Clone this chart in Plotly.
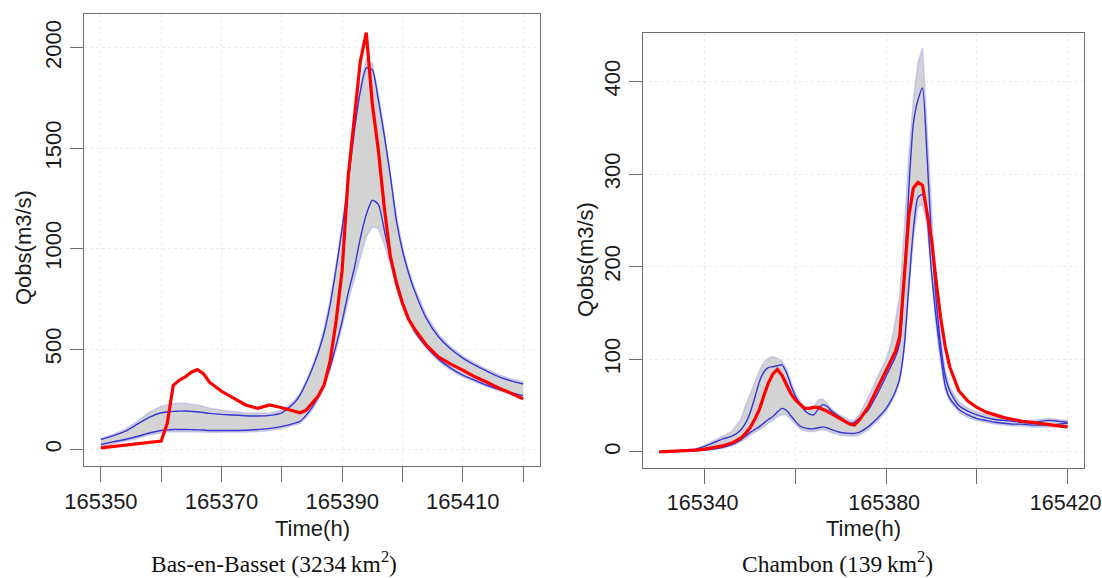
import plotly.graph_objects as go

W, H = 1102, 578

# ---------------- Left panel: Bas-en-Basset ----------------
t_left = [165350, 165352, 165354, 165356, 165358, 165360, 165361, 165362, 165363, 165364,
          165365, 165366, 165367, 165368, 165370, 165372, 165374, 165376, 165378, 165380,
          165382, 165383, 165384, 165385, 165386, 165387, 165388, 165389, 165390, 165391,
          165392, 165393, 165394, 165395, 165396, 165397, 165398, 165399, 165400, 165401,
          165402, 165404, 165406, 165408, 165410, 165412, 165414, 165416, 165418, 165420]

obs_left = [8, 15, 22, 28, 34, 42, 130, 320, 345, 362,
            385, 398, 378, 335, 290, 255, 222, 205, 222, 208,
            190, 183, 195, 230, 265, 320, 440, 640, 893, 1360,
            1650, 1930, 2075, 1720, 1490, 1200, 960, 830, 727, 650,
            600, 518, 460, 425, 395, 362, 335, 305, 280, 252]

blue_up_left = [50, 68, 90, 125, 160, 183, 187, 190, 191, 192,
                190, 188, 184, 180, 175, 172, 168, 167, 170, 183,
                230, 270, 330, 400, 480, 580, 720, 900, 1100, 1330,
                1580, 1780, 1900, 1890, 1740, 1560, 1360, 1140, 990, 880,
                790, 650, 560, 500, 455, 420, 390, 362, 342, 326]

blue_lo_left = [25, 38, 50, 65, 82, 95, 98, 100, 100, 100,
                99, 98, 97, 95, 95, 95, 96, 100, 105, 115,
                130, 140, 170, 210, 260, 330, 410, 520, 640, 780,
                900, 1050, 1170, 1241, 1220, 1090, 950, 820, 740, 660,
                590, 510, 450, 405, 370, 345, 320, 300, 283, 268]

band_up_left = [55, 75, 100, 140, 185, 215, 222, 228, 230, 230,
                226, 222, 214, 205, 195, 188, 182, 180, 182, 195,
                240, 280, 340, 410, 495, 600, 740, 920, 1120, 1350,
                1600, 1810, 1945, 1920, 1770, 1580, 1380, 1160, 1005, 895,
                805, 665, 572, 510, 465, 430, 400, 372, 352, 336]

band_lo_left = [15, 28, 40, 55, 72, 85, 88, 90, 90, 90,
                89, 88, 87, 86, 86, 86, 87, 90, 95, 105,
                120, 130, 158, 196, 245, 310, 390, 495, 610, 740,
                850, 960, 1060, 1110, 1100, 1020, 920, 800, 720, 645,
                580, 500, 440, 395, 362, 338, 312, 293, 277, 258]

# ---------------- Right panel: Chambon ----------------
t_right = [165330, 165332, 165334, 165336, 165338, 165340, 165342, 165344, 165346, 165348,
           165349, 165350, 165351, 165352, 165353, 165354, 165355, 165356, 165357, 165358,
           165359, 165360, 165361, 165362, 165363, 165364, 165365, 165366, 165367, 165368,
           165370, 165372, 165373, 165374, 165376, 165378, 165380, 165381, 165382, 165383,
           165384, 165385, 165386, 165387, 165388, 165389, 165390, 165391, 165392, 165393,
           165394, 165396, 165398, 165400, 165402, 165404, 165406, 165408, 165410, 165412,
           165414, 165416, 165418, 165420]

obs_right = [0, 0.3, 0.7, 1.2, 2, 3, 4.5, 6.5, 9.5, 15,
             20, 26, 35, 45, 60, 74, 84, 89, 83, 72,
             63, 56, 51, 47, 47, 48, 48, 46, 44, 41,
             35, 30, 29, 34, 48, 68, 87, 98, 108, 125,
             185, 255, 285, 291, 288, 258, 229, 185, 145, 114,
             92, 66, 55, 48, 43, 40, 37, 35, 33, 32,
             31, 29.5, 28, 27]

blue_up_right = [0, 0.5, 1, 2, 3, 6, 10, 14, 17, 24,
                 31, 42, 58, 75, 86, 91, 92, 93, 94, 86,
                 72, 60, 52, 45, 41, 40, 46, 51, 49, 44,
                 37, 31, 32, 36, 45, 62, 82, 92, 102, 118,
                 190, 285, 355, 380, 393, 320, 229, 165, 115, 82,
                 66, 50, 44, 40, 37, 35, 34, 33, 32, 31,
                 33, 34, 33, 32]

blue_lo_right = [0, 0.3, 0.6, 1, 1.5, 2, 3, 5, 8, 13,
                 17, 21, 24, 27, 31, 35, 38, 43, 47, 45,
                 39, 33, 28, 26, 25, 25, 26, 27, 26, 24,
                 21, 20, 20, 21, 27, 36, 47, 55, 65, 80,
                 115, 180, 240, 275, 278, 255, 193, 145, 105, 72,
                 58, 46, 40, 36, 34, 32, 31, 30, 30, 29,
                 29, 29, 30, 31]

band_up_right = [0, 0.6, 1.2, 2.2, 3.5, 7, 12, 17, 22, 35,
                 50, 62, 75, 87, 96, 101, 103, 101, 98, 90,
                 76, 63, 55, 48, 45, 48, 56, 57, 52, 46,
                 39, 34, 34, 40, 58, 80, 100, 115, 140, 170,
                 240, 320, 380, 420, 436, 350, 250, 175, 125, 88,
                 70, 54, 47, 43, 40, 38, 36, 35, 34, 34,
                 35, 36, 35, 34]

band_lo_right = [0, 0.2, 0.4, 0.8, 1.2, 1.6, 2.5, 4, 6.5, 11,
                 14, 18, 21, 24, 27, 31, 34, 38, 40, 40,
                 35, 30, 25, 23, 22, 22, 23, 24, 23, 21,
                 18, 17, 17, 18, 24, 33, 44, 52, 62, 76,
                 110, 172, 232, 265, 268, 245, 186, 136, 97, 67,
                 55, 43, 37, 34, 32, 30, 29, 28, 28, 27,
                 27, 27, 27, 26]

# tick definitions
xticks_left = [165350, 165360, 165370, 165380, 165390, 165400, 165410, 165420]
xlabels_left = ["165350", "", "165370", "", "165390", "", "165410", ""]
yticks_left = [0, 500, 1000, 1500, 2000]
xticks_right = [165340, 165360, 165380, 165400, 165420]
xlabels_right = ["165340", "", "165380", "", "165420"]
yticks_right = [0, 100, 200, 300, 400]

captions = ["Bas-en-Basset (3234\u2009km<sup>2</sup>)", "Chambon (139\u2009km<sup>2</sup>)"]

RED = "#ff0000"
BLUE = "#3434d8"
GRAY = "#d3d3d3"
EDGE = "rgba(170,170,235,0.55)"

fig = go.Figure()


def add_panel(t, obs, bu, bl, gu, gl, xa, ya):
    fig.add_trace(go.Scatter(x=t, y=gu, mode="lines", line=dict(color=EDGE, width=1.5),
                             xaxis=xa, yaxis=ya, showlegend=False, hoverinfo="skip"))
    fig.add_trace(go.Scatter(x=t, y=gl, mode="lines", line=dict(color=EDGE, width=1.5),
                             fill="tonexty", fillcolor=GRAY,
                             xaxis=xa, yaxis=ya, showlegend=False, hoverinfo="skip"))
    fig.add_trace(go.Scatter(x=t, y=bu, mode="lines", line=dict(color=BLUE, width=1.4, shape="spline", smoothing=0.6),
                             xaxis=xa, yaxis=ya, showlegend=False))
    fig.add_trace(go.Scatter(x=t, y=bl, mode="lines", line=dict(color=BLUE, width=1.4, shape="spline", smoothing=0.6),
                             xaxis=xa, yaxis=ya, showlegend=False))
    fig.add_trace(go.Scatter(x=t, y=obs, mode="lines", line=dict(color=RED, width=3.2),
                             xaxis=xa, yaxis=ya, showlegend=False))


add_panel(t_left, obs_left, blue_up_left, blue_lo_left, band_up_left, band_lo_left, "x", "y")
add_panel(t_right, obs_right, blue_up_right, blue_lo_right, band_up_right, band_lo_right, "x2", "y2")

# pixel boxes of the two plots
L = dict(x0=84, x1=540, y0=14, y1=466)
R = dict(x0=643, x1=1084, y0=33, y1=468)


def dom_x(b):
    return [b["x0"] / W, b["x1"] / W]


def dom_y(b):
    return [1 - b["y1"] / H, 1 - b["y0"] / H]


tickfont = dict(family="Liberation Sans, Arial, sans-serif", size=22, color="#1a1a1a")
tickfont_r = dict(family="Liberation Sans, Arial, sans-serif", size=21.5, color="#1a1a1a")
common_x = dict(showline=True, linecolor="#6e6e6e", linewidth=1.3, mirror=True,
                ticks="outside", ticklen=15, tickcolor="#6e6e6e", tickwidth=1.3,
                showgrid=True, gridcolor="#ececec", griddash="dot", gridwidth=1,
                zeroline=False, tickmode="array", automargin=False,
                ticklabeloverflow="allow")
common_y = dict(showline=True, linecolor="#6e6e6e", linewidth=1.3, mirror=True,
                ticks="outside", ticklen=13, tickcolor="#6e6e6e", tickwidth=1.3,
                showgrid=True, gridcolor="#ececec", griddash="dot", gridwidth=1,
                zeroline=False, tickfont=tickfont, tickmode="array", tickangle=-90,
                automargin=False, ticklabeloverflow="allow")

fig.update_layout(
    width=W, height=H,
    margin=dict(l=0, r=0, t=0, b=0, autoexpand=False),
    paper_bgcolor="white", plot_bgcolor="white",
    xaxis=dict(domain=dom_x(L), range=[165347.2, 165422.8], anchor="y",
               tickvals=xticks_left, ticktext=xlabels_left, tickfont=tickfont, **common_x),
    yaxis=dict(domain=dom_y(L), range=[-82, 2168], anchor="x",
               tickvals=yticks_left, ticktext=[str(v) for v in yticks_left], **common_y),
    xaxis2=dict(domain=dom_x(R), range=[165326.4, 165423.6], anchor="y2",
                tickvals=xticks_right, ticktext=xlabels_right, tickfont=tickfont_r,
                ticklabelshift=-2, **common_x),
    yaxis2=dict(domain=dom_y(R), range=[-17.4, 452.4], anchor="x2",
                tickvals=yticks_right, ticktext=[str(v) for v in yticks_right], **common_y),
)

title_font = dict(family="Liberation Sans, Arial, sans-serif", size=22, color="#1a1a1a")
cap_font = dict(family="Liberation Serif, Times New Roman, serif", size=23.5, color="#111111")

ann = []
# y-axis titles
ann.append(dict(text="Qobs(m3/s)", x=23 / W, y=1 - 248 / H, xref="paper", yref="paper",
                textangle=-90, showarrow=False, font=title_font, xanchor="center", yanchor="middle"))
ann.append(dict(text="Qobs(m3/s)", x=585 / W, y=1 - 260 / H, xref="paper", yref="paper",
                textangle=-90, showarrow=False, font=title_font, xanchor="center", yanchor="middle"))
# x-axis titles
ann.append(dict(text="Time(h)", x=(L["x0"] + L["x1"]) / 2 / W, y=1 - 528 / H, xref="paper", yref="paper",
                showarrow=False, font=title_font, xanchor="center", yanchor="middle"))
ann.append(dict(text="Time(h)", x=(R["x0"] + R["x1"]) / 2 / W, y=1 - 528 / H, xref="paper", yref="paper",
                showarrow=False, font=title_font, xanchor="center", yanchor="middle"))
# captions
ann.append(dict(text=captions[0], x=274 / W, y=1 - 562 / H, xref="paper", yref="paper",
                showarrow=False, font=cap_font, xanchor="center", yanchor="middle"))
ann.append(dict(text=captions[1], x=837 / W, y=1 - 562 / H, xref="paper", yref="paper",
                showarrow=False, font=cap_font, xanchor="center", yanchor="middle"))
fig.update_layout(annotations=ann)

fig.write_html("out.html", config={"displayModeBar": False},
               post_script="document.body.style.margin='0';document.body.style.padding='0';"
                           "document.body.style.overflow='hidden';")
